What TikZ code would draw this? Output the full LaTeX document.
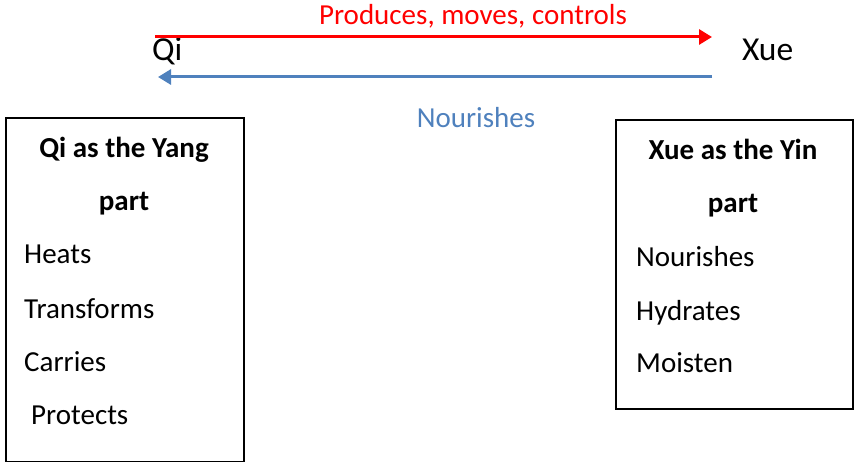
\documentclass[tikz,border=0pt]{standalone}
\usepackage{fontspec}
\setmainfont{Carlito}
\usepackage{tikz}
\usetikzlibrary{arrows.meta}
\definecolor{nourblue}{HTML}{4F81BD}

\begin{document}
\begin{tikzpicture}[x=1pt, y=-1pt, every node/.style={inner sep=0pt, font=\fontsize{29}{34}\selectfont}]
            \useasboundingbox (0,0) rectangle (856,462);

            \node (qi) at (152, 61) [anchor=base west, font=\fontsize{33.5}{38}\selectfont] {Qi};
            \node (xue) at (742, 61) [anchor=base west, font=\fontsize{33.5}{38}\selectfont] {Xue};

            \coordinate (r_a) at (155, 37);
            \coordinate (r_b) at (712, 37);
            \coordinate (b_a) at (712, 77);
            \coordinate (b_b) at (158, 77);

            \draw [line width=3pt, color=red, -{Triangle[length=13pt, width=15pt]}] (r_a) -- (r_b);
            \draw [line width=3pt, color=nourblue, -{Triangle[length=13pt, width=15pt]}] (b_a) -- (b_b);

            \node (l_red) at (473, 25) [anchor=base, color=red] {Produces, moves, controls};
            \node (l_blue) at (476, 128) [anchor=base, color=nourblue] {Nourishes};

            % Yang box
            \node (yang) at (5, 117) [draw, line width=2pt, anchor=north west, minimum width=238, minimum height=344] {};
            \node (yang_t) at (124, 158) [anchor=base, font=\fontsize{29}{34}\selectfont\bfseries] {Qi as the Yang};
            \node (yang_p) at (124, 211) [anchor=base, font=\fontsize{29}{34}\selectfont\bfseries] {part};
            \node (yang_a) at (24, 264) [anchor=base west] {Heats};
            \node (yang_b) at (24, 318) [anchor=base west] {Transforms};
            \node (yang_c) at (24, 371) [anchor=base west] {Carries};
            \node (yang_d) at (31, 424) [anchor=base west] {Protects};

            % Yin box
            \node (yin) at (615, 119) [draw, line width=2pt, anchor=north west, minimum width=237, minimum height=289] {};
            \node (yin_t) at (733, 160) [anchor=base, font=\fontsize{29}{34}\selectfont\bfseries] {Xue as the Yin};
            \node (yin_p) at (733, 213) [anchor=base, font=\fontsize{29}{34}\selectfont\bfseries] {part};
            \node (yin_a) at (636, 266) [anchor=base west] {Nourishes};
            \node (yin_b) at (636, 320) [anchor=base west] {Hydrates};
            \node (yin_c) at (636, 372) [anchor=base west] {Moisten};
        \end{tikzpicture}
\end{document}
